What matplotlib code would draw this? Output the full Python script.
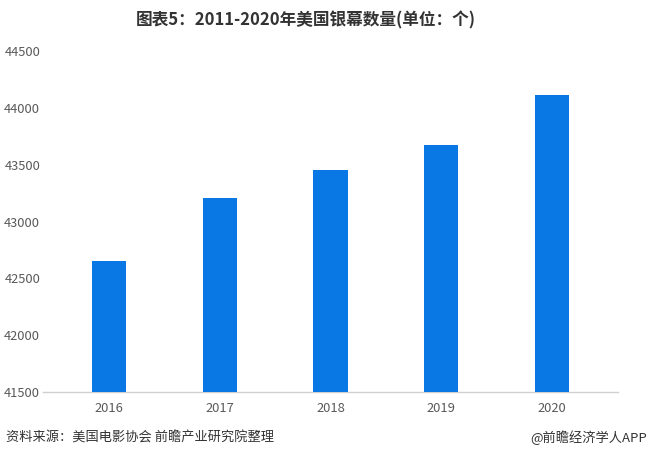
import matplotlib
matplotlib.use("Agg")
import matplotlib.pyplot as plt

plt.rcParams['font.family'] = ['Noto Sans CJK SC', 'DejaVu Sans']

years = ["2016", "2017", "2018", "2019", "2020"]
screens = [42650, 43210, 43450, 43670, 44110]
yticks = [41500, 42000, 42500, 43000, 43500, 44000, 44500]

title = "图表5：2011-2020年美国银幕数量(单位：个)"
source = "资料来源：美国电影协会 前瞻产业研究院整理"
credit = "@前瞻经济学人APP"

fig = plt.figure(figsize=(6.5, 4.58), dpi=100)
ax = fig.add_axes([43/650, 1-392.3/458, 575/650, (392.3-50.8)/458])

x = list(range(len(years)))
ax.bar(x, [v - yticks[0] for v in screens], bottom=yticks[0], width=0.31,
       color="#0A78E4", zorder=3)

ax.set_ylim(yticks[0], yticks[-1])
ax.set_xlim(-0.6, 4.6)
ax.set_yticks(yticks)
ax.set_yticklabels([str(t) for t in yticks])
ax.set_xticks(x)
ax.set_xticklabels(years)
ax.tick_params(axis='both', length=0, labelsize=9.3, colors="#595959")
ax.tick_params(axis='y', pad=2)
ax.tick_params(axis='x', pad=7)
for s in ["top", "right", "left"]:
    ax.spines[s].set_visible(False)
ax.spines["bottom"].set_color("#D0D0D0")
ax.spines["bottom"].set_linewidth(1)

fig.text(0.47, 1-20/458, title, ha='center', va='center', fontsize=12,
         fontweight='bold', color="#333333")
fig.text(6/650, 1-438/458, source, ha='left', va='center', fontsize=9.5,
         color="#333333")
fig.text(647/650, 1-438/458, credit, ha='right', va='center', fontsize=9.5,
         color="#333333")

fig.savefig("out.png", dpi=100)
